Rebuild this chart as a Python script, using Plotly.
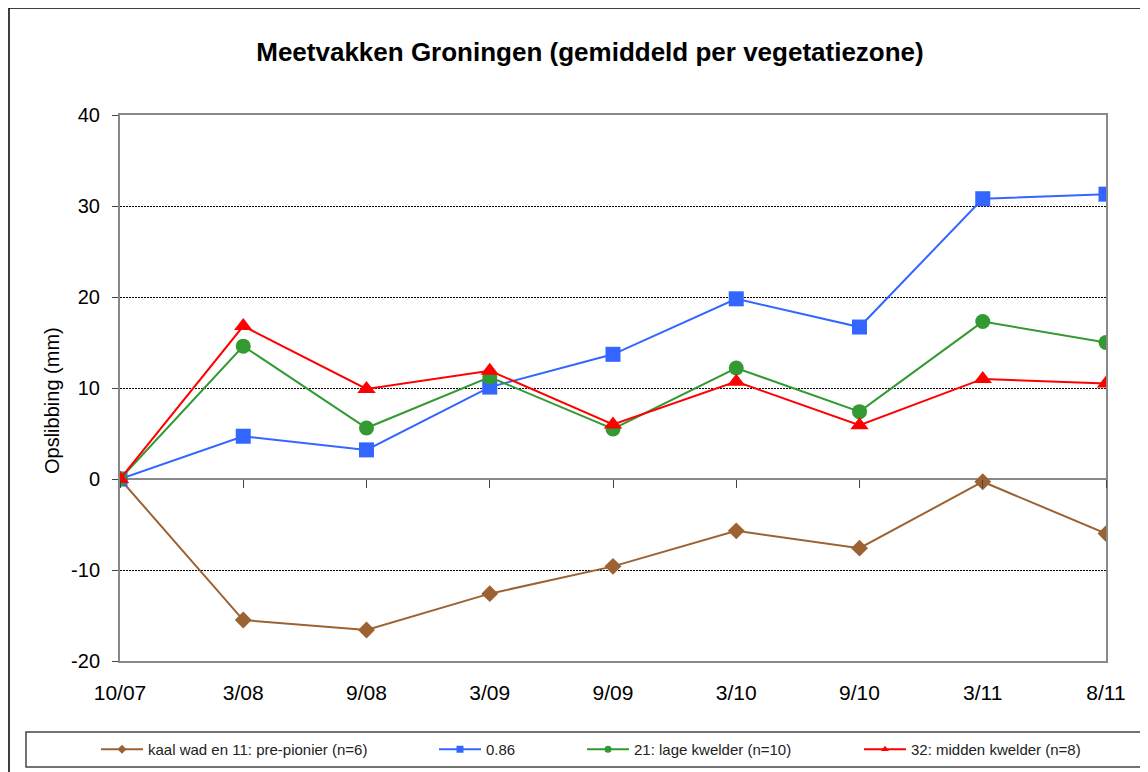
import plotly.graph_objects as go

categories = ["10/07", "3/08", "9/08", "3/09", "9/09", "3/10", "9/10", "3/11", "8/11"]
kaal_wad = [0, -15.5, -16.6, -12.6, -9.6, -5.7, -7.6, -0.3, -6.0]
s086 = [0, 4.7, 3.2, 10.1, 13.7, 19.8, 16.7, 30.8, 31.3]
lage_kwelder = [0, 14.6, 5.6, 11.2, 5.5, 12.2, 7.4, 17.3, 15.0]
midden_kwelder = [0, 16.8, 9.9, 11.9, 6.0, 10.7, 5.9, 11.0, 10.5]

series_names = ["kaal wad en 11: pre-pionier (n=6)", "0.86", "21: lage kwelder (n=10)", "32: midden kwelder (n=8)"]
series_vals = [kaal_wad, s086, lage_kwelder, midden_kwelder]
colors = ["#9C6232", "#3366FF", "#339933", "#FF0000"]
symbols = ["diamond", "square", "circle", "triangle-up"]
sizes = [13, 15, 15, 16]
y_ticks = [-20, -10, 0, 10, 20, 30, 40]
y_ticktext = ["-20", "-10", "0", "10", "20", "30", "40"]

FONT = "Liberation Sans, Arial, sans-serif"
xs = list(range(len(categories)))

# page is offset by the default 8px body margin; work in screen coordinates
OFF = 8
W, H = 1148 - OFF, 772 - OFF
PL, PT, PR, PB = 120, 115, 1106, 661  # plot area in screen coords
L, T = PL - OFF, PT - OFF
R, B = W - (PR - OFF), H - (PB - OFF)
pw, ph = PR - PL, PB - PT

def px(xs_):
    return (xs_ - PL) / pw

def py(ys_):
    return (PB - ys_) / ph

def cx(xs_):
    return (xs_ - OFF) / W

def cy(ys_):
    return 1 - (ys_ - OFF) / H

fig = go.Figure()
for name, vals, c, sym, sz in zip(series_names, series_vals, colors, symbols, sizes):
    fig.add_trace(go.Scatter(x=xs, y=vals, mode="lines+markers", name=name,
                             line=dict(color=c, width=2),
                             marker=dict(symbol=sym, size=sz, color=c),
                             showlegend=False, hoverinfo="x+y"))

legend_x = [96, 434, 582, 859]
legend_keys = ["legend", "legend2", "legend3", "legend4"]
for i, (name, c, sym) in enumerate(zip(series_names, colors, symbols)):
    fig.add_trace(go.Scatter(x=[None], y=[None], mode="lines+markers", name=name,
                             line=dict(color=c, width=2),
                             marker=dict(symbol=sym, size=7, color=c),
                             showlegend=True, legend=legend_keys[i],
                             xaxis="x2"))

layout_legends = {}
for i, key in enumerate(legend_keys):
    layout_legends[key] = dict(
        x=cx(legend_x[i]), y=cy(749.5), xanchor="left", yanchor="middle",
        xref="container", yref="container",
        font=dict(family=FONT, size=15, color="#222"),
        bgcolor="rgba(0,0,0,0)", borderwidth=0, itemwidth=42,
        itemsizing="trace", tracegroupgap=0,
    )

fig.update_layout(
    width=W, height=H,
    margin=dict(l=L, r=R, t=T, b=B, autoexpand=False),
    paper_bgcolor="white", plot_bgcolor="white",
    font=dict(family=FONT, color="black"),
    title=dict(text="<b>Meetvakken Groningen (gemiddeld per vegetatiezone)</b>",
               font=dict(family=FONT, size=26, color="black"),
               x=px(590), xref="paper", xanchor="center",
               y=cy(52), yanchor="middle"),
    xaxis=dict(range=[0, 8], tickvals=xs, ticktext=categories,
               showgrid=False, zeroline=False, ticks="", showline=True,
               linecolor="#888888", linewidth=2, mirror=True, automargin=False,
               tickfont=dict(family=FONT, size=21, color="black"),
               ticklabelstandoff=12, fixedrange=True),
    xaxis2=dict(range=[0, 8], tickvals=xs, showticklabels=False,
                overlaying="x", anchor="free", position=1/3, automargin=False,
                ticks="outside", ticklen=8, tickwidth=1, tickcolor="#444444",
                showgrid=False, zeroline=False, showline=False),
    yaxis=dict(range=[-20, 40], tickvals=y_ticks, ticktext=y_ticktext,
               showgrid=True, gridcolor="black", gridwidth=1, griddash="2px,1px",
               zeroline=True, zerolinecolor="#888888", zerolinewidth=2,
               showline=True, linecolor="#888888", linewidth=2, mirror=True,
               ticks="outside", ticklen=6, tickcolor="#444444", automargin=False,
               tickfont=dict(family=FONT, size=20, color="black"),
               ticklabelstandoff=8,
               fixedrange=True),
    **layout_legends,
)

fig.add_annotation(text="Opslibbing (mm)", textangle=-90, xref="paper", yref="paper",
                   x=px(52), y=py(401), xanchor="center", yanchor="middle",
                   showarrow=False, font=dict(family=FONT, size=20, color="black"))

# outer chart frame and legend box
fig.add_shape(type="rect", xref="paper", yref="paper",
              x0=px(9), x1=px(1170), y0=py(790), y1=py(8),
              line=dict(color="black", width=1.5), fillcolor="rgba(0,0,0,0)", layer="below")
fig.add_shape(type="rect", xref="paper", yref="paper",
              x0=px(26), x1=px(1142), y0=py(767), y1=py(732),
              line=dict(color="#444444", width=1.5), fillcolor="rgba(0,0,0,0)", layer="below")

fig.write_html("out.html")
